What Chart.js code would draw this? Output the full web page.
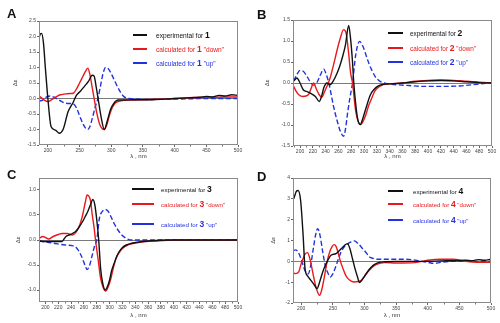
<!DOCTYPE html>
<html>
<head>
<meta charset="utf-8">
<script src="https://cdn.jsdelivr.net/npm/chart.js@4.4.1/dist/chart.umd.min.js"></script>
<style>
  body { margin: 0; background: #fff; font-family: Arial, "Liberation Sans", sans-serif; }
  #wrap { position: relative; width: 500px; height: 323px; overflow: hidden; }
  #wrap canvas { position: absolute; }
  .letter { position: absolute; font-weight: bold; font-size: 13px; line-height: 13px; color: #111; }
  .row { position: absolute; white-space: nowrap; line-height: 10px; height: 10px; }
  .row b { font-size: 8.5px; }
  .smp { position: absolute; height: 2px; }
</style>
</head>
<body>
<div id="wrap">
  <canvas id="cA"></canvas>
  <canvas id="cB"></canvas>
  <canvas id="cC"></canvas>
  <canvas id="cD"></canvas>
</div>
<script>
// panel A (compound 1)
const aExpX = [186,188,190,193,196,200,205,212,218,224,232,240,245,252,258,264,270,273,276,280,284,289,294,299,304,311,320,335,350,370,400,420,440,450,460,470,480,490,500];
const aExpY = [1.95,2.08,2.1,1.8,1.0,0.0,-0.9,-1.02,-1.12,-1.0,-0.42,-0.12,0.1,0.25,0.4,0.55,0.75,0.72,0.4,-0.1,-0.6,-1.0,-0.7,-0.35,-0.16,-0.05,-0.05,-0.04,-0.04,-0.03,0.0,0.02,0.04,0.07,0.05,0.1,0.08,0.12,0.1];
const aDownX = [186,190,195,200,205,210,215,220,228,235,240,245,250,255,260,263,266,270,273,277,282,286,289,293,297,301,306,311,320,335,350,380,400,430,460,500];
const aDownY = [0.08,0.02,-0.06,-0.1,-0.05,0.02,0.08,0.12,0.15,0.16,0.17,0.3,0.5,0.7,0.9,0.98,0.8,0.35,0.0,-0.45,-0.85,-0.98,-1.0,-0.85,-0.55,-0.32,-0.15,-0.1,-0.06,-0.05,-0.04,-0.02,0.0,0.03,0.04,0.05];
const aUpX = [186,192,198,204,210,216,222,228,235,240,245,250,255,260,263,266,270,275,279,283,287,291,295,300,307,314,320,328,340,360,400,450,500];
const aUpY = [-0.08,-0.05,0.05,0.08,0.04,-0.03,-0.1,-0.15,-0.16,-0.17,-0.3,-0.55,-0.8,-0.97,-1.0,-0.92,-0.65,-0.25,0.0,0.4,0.8,1.0,0.97,0.8,0.5,0.22,0.06,0.0,-0.02,-0.03,-0.02,0.0,0.0];

// panel B (compound 2)
const bExpX = [190,192,195,200,205,210,216,224,230,234,237,242,247,252,258,262,266,271,276,279,282,284,287,290,294,298,303,310,316,321,330,340,360,380,400,420,440,460,480,500];
const bExpY = [0.05,0.08,0.12,0.0,-0.16,-0.2,-0.24,-0.32,-0.44,-0.3,-0.12,0.0,-0.04,0.05,0.24,0.4,0.6,0.91,1.37,1.05,0.5,0.0,-0.5,-0.85,-0.99,-0.85,-0.6,-0.28,-0.15,-0.08,-0.03,-0.02,0.0,0.03,0.05,0.06,0.05,0.03,0.01,0.0];
const bDownX = [190,194,198,205,213,218,221,226,230,234,238,242,247,251,255,259,263,268,272,276,279,282,287,291,295,299,303,307,311,316,321,330,340,360,380,400,420,440,460,480,500];
const bDownY = [-0.08,-0.2,-0.28,-0.32,-0.28,-0.1,0.0,-0.16,-0.28,-0.34,-0.22,-0.08,0.12,0.35,0.6,0.85,1.07,1.27,1.19,0.7,0.24,0.0,-0.67,-0.92,-0.99,-0.9,-0.75,-0.55,-0.4,-0.22,-0.12,-0.04,-0.02,0.0,0.04,0.06,0.07,0.06,0.04,0.02,0.0];
const bUpX = [190,195,200,205,210,215,221,226,232,237,241,245,249,253,258,263,268,271,274,278,282,287,293,298,303,308,313,318,324,337,350,370,390,410,430,450,470,490,500];
const bUpY = [0.05,0.2,0.3,0.28,0.18,0.05,-0.05,0.0,0.2,0.33,0.2,0.0,-0.3,-0.6,-0.9,-1.15,-1.27,-1.1,-0.75,-0.35,0.0,0.67,0.99,0.88,0.67,0.45,0.28,0.14,0.05,-0.02,-0.04,-0.06,-0.08,-0.08,-0.08,-0.07,-0.04,-0.01,0.0];

// panel C (compound 3)
const cExpX = [190,200,210,220,226,229,232,237,242,247,252,258,262,266,270,274,277,280,283,286,289,293,296,300,303,307,311,315,320,326,333,341,360,400,450,500];
const cExpY = [-0.02,-0.03,-0.03,-0.03,-0.03,0.02,0.07,0.1,0.13,0.17,0.25,0.37,0.47,0.57,0.7,0.81,0.7,0.4,0.0,-0.57,-0.85,-1.0,-0.95,-0.8,-0.62,-0.47,-0.33,-0.23,-0.15,-0.1,-0.07,-0.05,-0.02,0.0,0.0,0.0];
const cDownX = [190,196,200,205,212,220,226,234,242,250,254,258,262,265,268,270,273,276,278,282,286,290,294,298,302,306,310,315,320,328,336,350,370,400,450,500];
const cDownY = [0.03,0.07,0.05,0.02,0.07,0.11,0.13,0.13,0.1,0.2,0.32,0.5,0.75,0.9,0.87,0.8,0.5,0.23,0.0,-0.38,-0.77,-0.95,-1.02,-0.93,-0.77,-0.55,-0.37,-0.25,-0.17,-0.1,-0.07,-0.04,-0.02,0.0,0.0,0.0];
const cUpX = [190,200,215,231,240,247,252,258,262,265,269,273,277,280,284,288,293,298,302,307,313,319,326,335,350,400,450,500];
const cUpY = [-0.02,-0.04,-0.07,-0.1,-0.11,-0.14,-0.22,-0.38,-0.52,-0.59,-0.5,-0.3,-0.1,0.0,0.43,0.56,0.61,0.57,0.47,0.33,0.2,0.1,0.03,0.0,0.0,0.0,0.0,0.0];

// panel D (compound 4)
const dExpX = [188,190,192,195,199,203,206,210,215,221,225,229,234,238,242,247,255,263,268,273,277,281,285,289,292,296,301,306,311,316,322,333,350,380,400,420,440,460,470,480,490,500];
const dExpY = [3.0,3.17,3.35,3.4,2.93,1.25,-0.35,-0.7,-0.9,-1.15,-1.31,-1.0,-0.51,-0.2,0.05,0.29,0.37,0.6,0.75,0.85,0.6,0.13,-0.35,-0.75,-1.02,-0.9,-0.67,-0.45,-0.27,-0.15,-0.06,-0.02,0.0,0.0,0.0,0.02,0.03,0.05,0.03,0.08,0.05,0.1];
const dDownX = [187,191,196,200,203,206,210,213,216,220,224,229,233,237,241,245,249,252,255,258,262,266,270,274,279,284,290,295,300,305,310,316,324,332,350,380,400,420,440,460,480,500];
const dDownY = [-0.55,-0.59,-0.51,-0.1,0.13,0.35,0.42,0.2,-0.19,-0.8,-1.31,-1.63,-1.3,-0.67,0.0,0.45,0.72,0.8,0.72,0.45,0.0,-0.35,-0.65,-0.83,-0.95,-0.99,-0.97,-0.91,-0.72,-0.51,-0.35,-0.19,-0.1,-0.06,-0.08,-0.06,0.05,0.1,0.1,0.0,-0.05,-0.05];
const dUpX = [187,191,195,200,204,208,211,215,219,223,226,230,234,238,242,246,250,254,258,263,268,274,279,284,290,297,303,308,314,321,330,345,360,375,390,400,410,420,440,460,480,500];
const dUpY = [0.5,0.55,0.45,0.1,-0.3,-0.55,-0.6,-0.2,0.6,1.3,1.57,1.2,0.45,-0.2,-0.55,-0.75,-0.6,-0.3,0.05,0.45,0.7,0.85,0.93,0.98,0.85,0.61,0.4,0.21,0.14,0.1,0.1,0.1,0.1,0.08,0.0,-0.05,-0.1,-0.05,0.0,0.0,0.0,0.0];

const FONT = 'Arial, "Liberation Sans", sans-serif';
const BLACK = '#111111', RED = '#e8191c', BLUE = '#2233dd';

// box round the plot area + minor ticks on x
const frame = {
  id: 'frame',
  afterDraw(c) {
    const a = c.chartArea, ctx = c.ctx, xs = c.scales.x;
    ctx.save();
    ctx.strokeStyle = '#8a8a8a';
    ctx.lineWidth = 1;
    ctx.strokeRect(Math.round(a.left) + 0.5, Math.round(a.top) + 0.5,
      Math.round(a.right - a.left) - 1, Math.round(a.bottom - a.top) - 1);
    const step = c.options.scales.x.ticks.stepSize;
    ctx.strokeStyle = '#777';
    ctx.beginPath();
    for (let v = Math.ceil(xs.min / step) * step - step / 2; v < xs.max; v += step) {
      if (v <= xs.min) continue;
      const px = Math.round(xs.getPixelForValue(v)) + 0.5;
      ctx.moveTo(px, a.bottom);
      ctx.lineTo(px, a.bottom + 1.5);
    }
    ctx.stroke();
    ctx.restore();
  }
};

function line(xs, ys, color, dashed) {
  return {
    data: xs.map((x, i) => ({ x: x, y: ys[i] })),
    borderColor: color,
    borderWidth: 1.4,
    borderDash: dashed ? [5, 2.5] : [],
    pointRadius: 0,
    fill: false,
    cubicInterpolationMode: 'monotone'
  };
}

function panel(p) {
  const cv = document.getElementById(p.id);
  cv.width = p.w; cv.height = p.h;
  cv.style.left = p.left + 'px'; cv.style.top = p.top + 'px';
  cv.style.width = p.w + 'px'; cv.style.height = p.h + 'px';

  new Chart(cv, {
    type: 'line',
    data: { datasets: p.sets },
    options: {
      responsive: false,
      animation: false,
      layout: { padding: { top: p.padTop, right: p.padRight, left: 0, bottom: 0 } },
      plugins: { legend: { display: false }, tooltip: { enabled: false } },
      scales: {
        x: {
          type: 'linear', min: p.xMin, max: 500,
          afterFit: s => { s.height = p.xH; },
          border: { display: false },
          grid: { drawOnChartArea: false, color: 'rgba(0,0,0,0)', tickColor: '#666', tickLength: 2 },
          ticks: { stepSize: p.xStep, includeBounds: false, autoSkip: false, maxRotation: 0,
                   padding: 1, color: '#444', font: { size: 5, family: FONT } },
          title: { display: true, text: 'λ , nm', color: '#333', font: { size: 6, family: FONT },
                   padding: { top: 0, bottom: p.xTitlePad } }
        },
        y: {
          min: p.yMin, max: p.yMax,
          afterFit: s => { s.width = p.yW; },
          border: { display: false },
          grid: {
            color: ctx => Math.abs(ctx.tick.value) < 1e-9 ? '#7a7a7a' : 'rgba(0,0,0,0)',
            tickColor: '#666', tickLength: 2, lineWidth: 1
          },
          ticks: { stepSize: p.yStep, includeBounds: false, padding: 1, color: '#444',
                   font: { size: 5, family: FONT },
                   callback: v => p.yDec ? v.toFixed(1) : String(v) },
          title: { display: true, text: 'Δε', color: '#333', font: { size: 6, family: FONT },
                   padding: { top: p.yTitlePad, bottom: 0 } }
        }
      }
    },
    plugins: [frame]
  });
}

panel({ id: 'cA', left: 0, top: 0, w: 250, h: 160, padTop: 21, padRight: 12, yW: 39, xH: 15,
  xMin: 186, xStep: 50, yMin: -1.5, yMax: 2.5, yStep: 0.5, yDec: true, xTitlePad: 0, yTitlePad: 12,
  sets: [line(aExpX, aExpY, BLACK), line(aDownX, aDownY, RED), line(aUpX, aUpY, BLUE, true)] });
panel({ id: 'cB', left: 250, top: 0, w: 250, h: 160, padTop: 20, padRight: 8, yW: 43, xH: 14,
  xMin: 189, xStep: 20, yMin: -1.5, yMax: 1.5, yStep: 0.5, yDec: true, xTitlePad: 0, yTitlePad: 14,
  sets: [line(bExpX, bExpY, BLACK), line(bDownX, bDownY, RED), line(bUpX, bUpY, BLUE, true)] });
panel({ id: 'cC', left: 0, top: 160, w: 250, h: 163, padTop: 18, padRight: 12, yW: 39, xH: 21,
  xMin: 190, xStep: 20, yMin: -1.24, yMax: 1.24, yStep: 0.5, yDec: true, xTitlePad: 4, yTitlePad: 15,
  sets: [line(cExpX, cExpY, BLACK), line(cDownX, cDownY, RED), line(cUpX, cUpY, BLUE, true)] });
panel({ id: 'cD', left: 250, top: 160, w: 250, h: 163, padTop: 18, padRight: 9, yW: 43, xH: 20,
  xMin: 187, xStep: 50, yMin: -2, yMax: 4, yStep: 1, yDec: false, xTitlePad: 4, yTitlePad: 20,
  sets: [line(dExpX, dExpY, BLACK), line(dDownX, dDownY, RED), line(dUpX, dUpY, BLUE, true)] });

// panel letters and legends (html text)
const wrap = document.getElementById('wrap');
[['A', 7, 7], ['B', 257, 8], ['C', 7, 168], ['D', 257, 170]].forEach(([t, x, y]) => {
  const d = document.createElement('div');
  d.className = 'letter'; d.textContent = t;
  d.style.left = x + 'px'; d.style.top = y + 'px';
  wrap.appendChild(d);
});

const legends = [
  { num: '1', x1: 133, w: 14, tx: 156, ys: [35, 49, 63], fs: 6.6 },
  { num: '2', x1: 388, w: 15, tx: 410, ys: [33, 48, 62], fs: 6.4 },
  { num: '3', x1: 132, w: 22, tx: 161, ys: [189, 204, 224], fs: 6.2 },
  { num: '4', x1: 388, w: 15, tx: 413, ys: [191, 204, 220], fs: 6.1 }
];
legends.forEach(L => {
  const rows = [
    [BLACK, 'experimental for ', ''],
    [RED, 'calculated for ', ' "down"'],
    [BLUE, 'calculated for ', ' "up"']
  ];
  rows.forEach(([col, pre, post], i) => {
    const s = document.createElement('div');
    s.className = 'smp';
    s.style.left = L.x1 + 'px'; s.style.top = (L.ys[i] - 1) + 'px'; s.style.width = L.w + 'px';
    s.style.background = col;
    wrap.appendChild(s);
    const r = document.createElement('div');
    r.className = 'row';
    r.style.left = L.tx + 'px'; r.style.top = (L.ys[i] - 5) + 'px';
    r.style.fontSize = L.fs + 'px'; r.style.color = col;
    r.innerHTML = pre + '<b>' + L.num + '</b>' + post;
    wrap.appendChild(r);
  });
});
</script>
</body>
</html>
